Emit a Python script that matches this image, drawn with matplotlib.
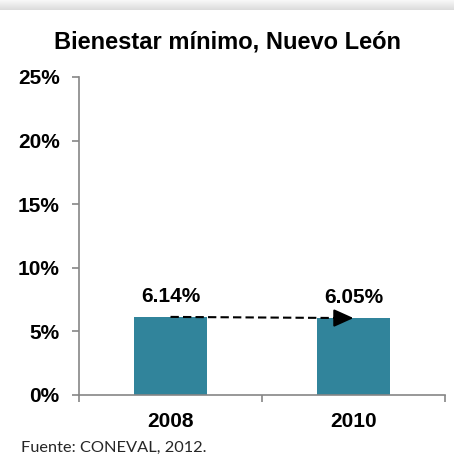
import numpy as np
import matplotlib
matplotlib.use("Agg")
import matplotlib.pyplot as plt

categories = ["2008", "2010"]
values = [6.14, 6.05]
value_labels = ["6.14%", "6.05%"]
yticks = [0, 5, 10, 15, 20, 25]
ytick_labels = ["0%", "5%", "10%", "15%", "20%", "25%"]
title = "Bienestar mínimo, Nuevo León"
source = "Fuente: CONEVAL, 2012."

plt.rcParams['font.family'] = ['Liberation Sans', 'DejaVu Sans']

fig = plt.figure(figsize=(4.54, 4.59), dpi=100)
fig.patch.set_facecolor("white")

# top shadow band
grad = np.linspace(0.975, 0.86, 50).reshape(-1, 1)
bg = fig.add_axes([0, 1 - 10/459, 1, 10/459])
bg.imshow(grad, aspect='auto', cmap='gray', vmin=0, vmax=1, extent=[0, 1, 0, 1], origin='upper')
bg.axis('off')

ax = fig.add_axes([79/454, 1 - 395/459, (445 - 79)/454, (395 - 77)/459])
x = np.arange(len(categories))
bar_color = "#31849b"
ax.bar(x, values, width=0.4, color=bar_color, zorder=2)

ax.set_xlim(-0.5, len(categories) - 0.5)
ax.set_ylim(0, 25)
ax.set_yticks(yticks)
ax.set_yticklabels(ytick_labels, fontsize=15, fontweight='bold')
ax.set_xticks(x)
ax.set_xticklabels(categories, fontsize=15, fontweight='bold')
ax.set_xticks(np.arange(len(categories) + 1) - 0.5, minor=True)
ax.tick_params(axis='x', which='major', length=0, pad=12)
ax.tick_params(axis='x', which='minor', length=5, width=1.2, color='#868686', direction='out')
ax.tick_params(axis='y', which='major', length=5, width=1.2, color='#868686', direction='out', pad=9)

for s in ['top', 'right']:
    ax.spines[s].set_visible(False)
for s in ['left', 'bottom']:
    ax.spines[s].set_color('#868686')
    ax.spines[s].set_linewidth(1.2)

for xi, v, lab in zip(x, values, value_labels):
    ax.text(xi, v + 1.15, lab, ha='center', va='baseline', fontsize=15, fontweight='bold')

# dashed trend line with arrowhead
ax.plot([x[0], x[1] - 0.05], [values[0], values[1]], color='black', lw=1.5,
        dashes=(4, 2), zorder=3, solid_capstyle='butt', dash_capstyle='butt')
ax.annotate("", xy=(x[1], values[1]), xytext=(x[1] - 0.08, values[1]),
            arrowprops=dict(arrowstyle='-|>,head_length=0.4,head_width=0.18', color='black',
                            lw=1.5, mutation_scale=30, shrinkA=0, shrinkB=0), zorder=4)

fig.text(227.5/454, 1 - 42/459, title, ha='center', va='center', fontsize=17, fontweight='bold')
fig.text(21/454, 1 - 448/459, source, ha='left', va='center', fontsize=11.8,
         family=['Lato', 'DejaVu Sans'], color='#262626')

fig.savefig("out.png", dpi=100, facecolor='white')
